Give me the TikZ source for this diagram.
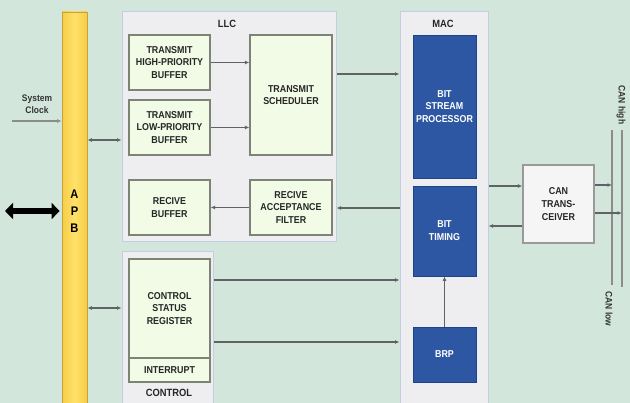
\documentclass[tikz,border=0pt]{standalone}
\usepackage{fontspec}
\setmainfont{Liberation Sans}[FakeStretch=0.89]
\usetikzlibrary{arrows.meta}

\definecolor{bgcol}{RGB}{210,230,220}
\definecolor{blockcol}{RGB}{238,238,240}
\definecolor{blockline}{RGB}{196,205,228}
\definecolor{bufcol}{RGB}{242,251,230}
\definecolor{bufline}{RGB}{125,132,118}
\definecolor{maccol}{RGB}{46,87,163}
\definecolor{macline}{RGB}{32,66,135}
\definecolor{apbcol}{RGB}{255,226,106}
\definecolor{apbedge}{RGB}{246,204,70}
\definecolor{wirecol}{RGB}{95,98,102}

\tikzset{
  block/.style={draw=blockline,fill=blockcol,line width=1pt},
  bufbox/.style={draw=bufline,fill=bufcol,line width=1.4pt,align=center,inner sep=1pt,
    font=\fontsize{10}{12.8}\selectfont\bfseries,text=black!85},
  macbox/.style={draw=macline,fill=maccol,line width=0.8pt,align=center,inner sep=1pt,
    font=\fontsize{10}{12.8}\selectfont\bfseries,text=white},
  title/.style={font=\fontsize{10.5}{12}\selectfont\bfseries,text=black!85},
  small/.style={font=\fontsize{9.5}{12.5}\selectfont\bfseries,text=black!80,align=center},
  wire/.style={draw=wirecol,line width=1.2pt},
  arr/.style={wire,-{Latex[length=4.5pt,width=4pt]}},
  darr/.style={wire,{Latex[length=4.5pt,width=4pt]}-{Latex[length=4.5pt,width=4pt]}}
}

\begin{document}
\begin{tikzpicture}[x=1pt,y=-1pt]
  \useasboundingbox[fill=bgcol] (0,0) rectangle (630,403);

  % big blocks
  \node[block,minimum width=214,minimum height=230] (llc) at (229,127) {};
  \node[block,minimum width=91,minimum height=158] (ctrl) at (167.5,331) {};
  \node[block,minimum width=88,minimum height=398] (mac) at (444,211) {};
  \node[title] at (227,24) {LLC};
  \node[title] at (443,24) {MAC};
  \node[title] at (169,393) {CONTROL};

  % APB bar
  \node[draw=apbedge!80!black,line width=0.8pt,left color=apbedge,right color=apbedge,middle color=apbcol,
    minimum width=25,minimum height=398,align=center,
    font=\fontsize{12.5}{17}\selectfont\bfseries] (apb) at (74.5,211) {A\\P\\B};

  % LLC buffers
  \node[bufbox,minimum width=81,minimum height=55] (hibuf) at (169.5,62.5) {TRANSMIT\\HIGH-PRIORITY\\BUFFER};
  \node[bufbox,minimum width=81,minimum height=55] (lobuf) at (169.5,127.5) {TRANSMIT\\LOW-PRIORITY\\BUFFER};
  \node[bufbox,minimum width=82,minimum height=120] (sched) at (291,95) {TRANSMIT\\SCHEDULER};
  \node[bufbox,minimum width=81,minimum height=55] (rxbuf) at (169.5,207.5) {RECIVE\\BUFFER};
  \node[bufbox,minimum width=82,minimum height=55] (filter) at (291,207.5) {RECIVE\\ACCEPTANCE\\FILTER};

  % control
  \node[bufbox,minimum width=81,minimum height=99] (csr) at (169.5,308.5) {CONTROL\\STATUS\\REGISTER};
  \node[bufbox,minimum width=81,minimum height=24] (irq) at (169.5,370) {INTERRUPT};

  % MAC
  \node[macbox,minimum width=63,minimum height=143] (bsp) at (444.5,106.5) {BIT\\STREAM\\PROCESSOR};
  \node[macbox,minimum width=63,minimum height=90] (timing) at (444.5,231) {BIT\\TIMING};
  \node[macbox,minimum width=63,minimum height=55] (brp) at (444.5,354.5) {BRP};

  % transceiver
  \node[draw=black!40,fill=black!4,line width=1.4pt,minimum width=71,minimum height=78,align=center,
    inner sep=1pt,font=\fontsize{10}{12.8}\selectfont\bfseries,text=black!85] (xcvr) at (558.5,204) {CAN\\TRANS-\\CEIVER};

  % bus lines
  \coordinate (lowtop) at (612,130);
  \coordinate (lowbot) at (612,285);
  \coordinate (hightop) at (622,130);
  \coordinate (highbot) at (622,287);
  \draw[wire,draw=black!45] (lowtop) -- (lowbot);
  \draw[wire,draw=black!45] (hightop) -- (highbot);
  \node[small,rotate=-90] (canhigh) at (621,105) {CAN high};
  \node[small,rotate=-90] (canlow) at (609,309) {CAN low};

  % external side
  \coordinate (ext) at (5,211);
  \coordinate (clk) at (12,121);
  \node[small] (clktext) at (37,104) {System\\Clock};
  \draw[line width=6pt,{Triangle[length=8pt,width=16pt]}-{Triangle[length=8pt,width=16pt]}] (ext) -- ([xshift=-2pt]apb.west |- ext);
  \draw[arr,draw=black!45] (clk) -- (apb.west |- clk);

  % connectors
  \draw[arr] (hibuf.east) -- (sched.west |- hibuf.east);
  \draw[arr] (lobuf.east) -- (sched.west |- lobuf.east);
  \draw[arr] (llc.east |- 0,74) -- (mac.west |- 0,74);
  \draw[darr] (apb.east |- 0,140) -- (llc.west |- 0,140);
  \draw[arr] (filter.west) -- (rxbuf.east);
  \draw[arr] (mac.west |- 0,208) -- (llc.east |- 0,208);
  \draw[darr] (apb.east |- 0,308) -- (ctrl.west |- 0,308);
  \draw[arr] (ctrl.east |- 0,280) -- (mac.west |- 0,280);
  \draw[arr] (ctrl.east |- 0,342) -- (mac.west |- 0,342);
  \draw[arr] (brp.north) -- (timing.south);
  \draw[arr] (mac.east |- 0,186) -- (xcvr.west |- 0,186);
  \draw[arr] (xcvr.west |- 0,226) -- (mac.east |- 0,226);
  \draw[arr] (xcvr.east |- 0,185) -- (lowtop |- 0,185);
  \draw[arr] (xcvr.east |- 0,213) -- (hightop |- 0,213);
\end{tikzpicture}
\end{document}
